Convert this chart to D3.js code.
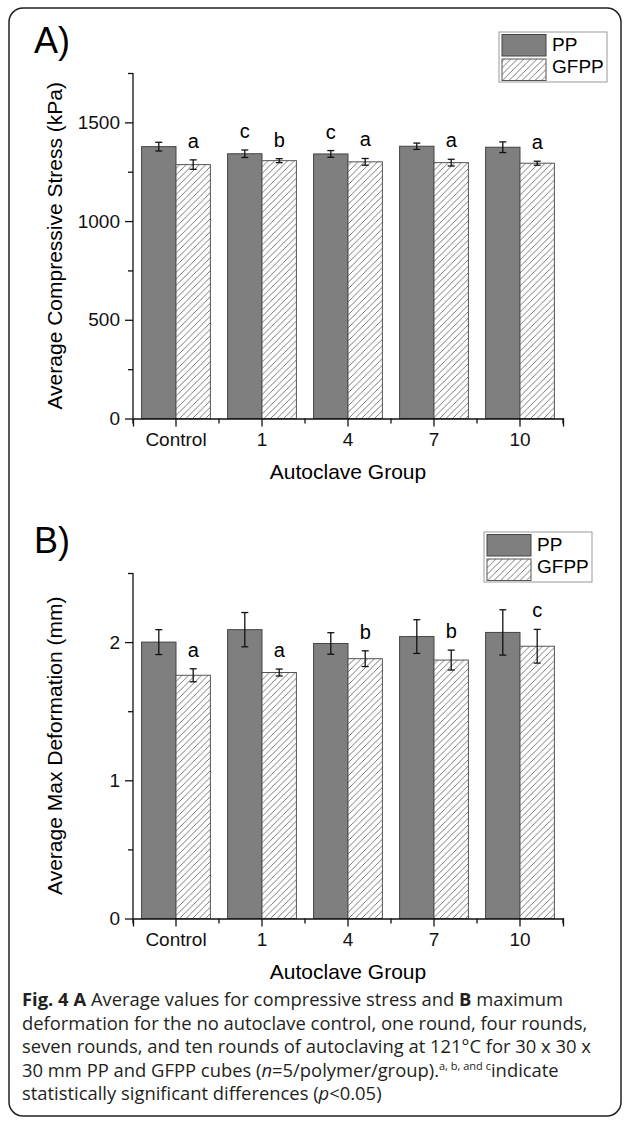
<!DOCTYPE html>
<html>
<head>
<meta charset="utf-8">
<script src="https://cdn.jsdelivr.net/npm/d3@7"></script>
<style>
  body { margin: 0; background: #fff; }
  svg { display: block; }
</style>
</head>
<body>
<div id="chart"></div>
<script>
// ---- data ----
var groups = ["Control", "1", "4", "7", "10"];
var series = ["PP", "GFPP"];

var stressPP = [1377, 1341, 1340, 1379, 1374];
var stressPPErr = [22, 19, 17, 16, 27];
var stressGFPP = [1286, 1306, 1300, 1296, 1293];
var stressGFPPErr = [24, 10, 17, 17, 10];
var stressLettersPP = ["", "c", "c", "", ""];
var stressLettersGFPP = ["a", "b", "a", "a", "a"];
var stressTicks = [0, 500, 1000, 1500];
var stressMinor = [250, 750, 1250, 1750];

var deformPP = [2.00, 2.09, 1.99, 2.04, 2.07];
var deformPPErr = [0.09, 0.124, 0.078, 0.122, 0.164];
var deformGFPP = [1.76, 1.78, 1.88, 1.87, 1.97];
var deformGFPPErr = [0.047, 0.025, 0.057, 0.072, 0.122];
var deformLettersPP = ["", "", "", "", ""];
var deformLettersGFPP = ["a", "a", "b", "b", "c"];
var deformTicks = [0, 1, 2];
var deformMinor = [0.5, 1.5, 2.5];

var width = 625, height = 1132;
var chartFont = "'Liberation Sans', Arial, sans-serif";
var captionFont = "'Open Sans', 'Noto Sans', sans-serif";

var svg = d3.select("#chart")
    .append("svg")
    .attr("width", width)
    .attr("height", height);

// hatch for GFPP
var defs = svg.append("defs");
var hatch = defs.append("pattern")
    .attr("id", "hatch")
    .attr("patternUnits", "userSpaceOnUse")
    .attr("width", 6.5)
    .attr("height", 6.5);
hatch.append("rect").attr("width", 6.5).attr("height", 6.5).attr("fill", "#fff");
hatch.append("path")
    .attr("d", "M-1,7.5 L7.5,-1 M-1,1 L1,-1 M5.5,7.5 L7.5,5.5")
    .attr("stroke", "#555")
    .attr("stroke-width", 0.8);

// frame
svg.append("rect")
    .attr("x", 9).attr("y", 8)
    .attr("width", 612).attr("height", 1108)
    .attr("rx", 14)
    .attr("fill", "none")
    .attr("stroke", "#222")
    .attr("stroke-width", 1.5);

var x = d3.scaleBand().domain(groups).range([133, 563]);
var xs = d3.scaleBand().domain(series).range([0, x.bandwidth()]).paddingOuter(0.25);

function drawPanel(p) {
    var g = svg.append("g").attr("transform", "translate(0," + p.dy + ")");
    var y = d3.scaleLinear().domain(p.domain).range([418.5, 73]);

    var rows = groups.map(function (k, i) {
        return [
            {group: k, s: "PP", v: p.pp[i], e: p.ppErr[i], l: p.ppLet[i]},
            {group: k, s: "GFPP", v: p.gf[i], e: p.gfErr[i], l: p.gfLet[i]}
        ];
    });
    var flat = [].concat.apply([], rows);

    g.selectAll("rect.bar")
        .data(flat)
        .enter()
        .append("rect")
        .attr("class", "bar")
        .attr("x", d => x(d.group) + xs(d.s))
        .attr("y", d => y(d.v))
        .attr("width", xs.bandwidth())
        .attr("height", d => y(0) - y(d.v))
        .attr("fill", d => d.s == "PP" ? "#7f7f7f" : "url(#hatch)")
        .attr("stroke", d => d.s == "PP" ? "#444" : "#555")
        .attr("stroke-width", 1);

    var eb = g.selectAll("g.err")
        .data(flat)
        .enter()
        .append("g")
        .attr("class", "err")
        .attr("transform", d => "translate(" + (x(d.group) + xs(d.s) + xs.bandwidth() / 2) + ",0)")
        .attr("stroke", "#111")
        .attr("stroke-width", 1.3);
    eb.append("line").attr("y1", d => y(d.v - d.e)).attr("y2", d => y(d.v + d.e));
    eb.append("line").attr("x1", -3.5).attr("x2", 3.5).attr("y1", d => y(d.v - d.e)).attr("y2", d => y(d.v - d.e));
    eb.append("line").attr("x1", -3.5).attr("x2", 3.5).attr("y1", d => y(d.v + d.e)).attr("y2", d => y(d.v + d.e));

    g.selectAll("text.sig")
        .data(flat.filter(d => d.l))
        .enter()
        .append("text")
        .attr("class", "sig")
        .attr("x", d => x(d.group) + xs(d.s) + xs.bandwidth() / 2)
        .attr("y", d => y(d.v + d.e) - 12)
        .attr("text-anchor", "middle")
        .attr("font-family", chartFont)
        .attr("font-size", 20)
        .text(d => d.l);

    // y axis
    var ya = g.append("g")
        .attr("transform", "translate(133,0)")
        .call(d3.axisLeft(y).tickValues(p.ticks).tickSize(8).tickPadding(5).tickFormat(d3.format("d")));
    ya.append("g").call(d3.axisLeft(y).tickValues(p.minor).tickSize(5).tickFormat(""))
        .select(".domain").remove();
    ya.select(".domain").attr("d", "M0," + y(p.domain[1]) + "V" + y(0));

    // x axis
    var xa = g.append("g")
        .attr("transform", "translate(0," + y(0) + ")")
        .call(d3.axisBottom(x).tickSize(8).tickPadding(6.5));
    xa.selectAll(".minor")
        .data(groups.concat(["end"]))
        .enter()
        .append("line")
        .attr("class", "minor")
        .attr("x1", d => d == "end" ? x.range()[1] : x(d))
        .attr("x2", d => d == "end" ? x.range()[1] : x(d))
        .attr("y2", 5)
        .attr("stroke", "currentColor");

    [ya, xa].forEach(function (a) {
        a.selectAll("path, line").attr("stroke", "#111").attr("stroke-width", 1.3);
        a.selectAll("text").attr("font-family", chartFont).attr("font-size", 19).attr("fill", "#111");
    });

    g.append("text")
        .attr("x", 348).attr("y", y(0) + 60)
        .attr("text-anchor", "middle")
        .attr("font-family", chartFont).attr("font-size", 21)
        .text("Autoclave Group");
    g.append("text")
        .attr("transform", "translate(62," + ((y(0) + y(p.domain[1])) / 2) + ")rotate(-90)")
        .attr("text-anchor", "middle")
        .attr("font-family", chartFont).attr("font-size", 21)
        .text(p.yTitle);
    g.append("text")
        .attr("x", 34).attr("y", 53)
        .attr("font-family", chartFont).attr("font-size", 36)
        .text(p.label);

    // legend
    var lg = g.append("g").attr("transform", "translate(" + p.legendX + ",32)");
    lg.append("rect").attr("width", 108).attr("height", 50)
        .attr("fill", "#fff").attr("stroke", "#999").attr("stroke-width", 1);
    series.forEach(function (s, i) {
        lg.append("rect")
            .attr("x", 3).attr("y", 2.5 + i * 24.5)
            .attr("width", 44).attr("height", 21.5)
            .attr("fill", s == "PP" ? "#7f7f7f" : "url(#hatch)")
            .attr("stroke", s == "PP" ? "#444" : "#555");
        lg.append("text")
            .attr("x", 53).attr("y", 19 + i * 22)
            .attr("font-family", chartFont).attr("font-size", 19)
            .text(s);
    });
}

drawPanel({dy: 0, domain: [0, 1750], ticks: stressTicks, minor: stressMinor,
    pp: stressPP, ppErr: stressPPErr, gf: stressGFPP, gfErr: stressGFPPErr,
    ppLet: stressLettersPP, gfLet: stressLettersGFPP,
    yTitle: "Average Compressive Stress (kPa)", label: "A)", legendX: 499});
drawPanel({dy: 500, domain: [0, 2.5], ticks: deformTicks, minor: deformMinor,
    pp: deformPP, ppErr: deformPPErr, gf: deformGFPP, gfErr: deformGFPPErr,
    ppLet: deformLettersPP, gfLet: deformLettersGFPP,
    yTitle: "Average Max Deformation (mm)", label: "B)", legendX: 484});

// caption
var cap = svg.append("text")
    .attr("font-family", captionFont)
    .attr("font-size", 18.4)
    .attr("fill", "#231f20");
function line(y) { return cap.append("tspan").attr("x", 22).attr("y", y); }
var l1 = line(1006);
l1.append("tspan").attr("font-weight", "bold").text("Fig. 4 A");
l1.append("tspan").text(" Average values for compressive stress and ");
l1.append("tspan").attr("font-weight", "bold").text("B");
l1.append("tspan").text(" maximum");
line(1029.5).text("deformation for the no autoclave control, one round, four rounds,");
line(1053).text("seven rounds, and ten rounds of autoclaving at 121\u00b0C for 30 x 30 x");
var l4 = line(1076.5);
l4.append("tspan").text("30 mm PP and GFPP cubes (");
l4.append("tspan").attr("font-style", "italic").text("n");
l4.append("tspan").text("=5/polymer/group).");
l4.append("tspan").attr("font-size", 11).attr("dy", -7).text("a, b, and c");
l4.append("tspan").attr("dy", 7).text("indicate");
var l5 = line(1100);
l5.append("tspan").text("statistically significant differences (");
l5.append("tspan").attr("font-style", "italic").text("p");
l5.append("tspan").text("<0.05)");
</script>
</body>
</html>
